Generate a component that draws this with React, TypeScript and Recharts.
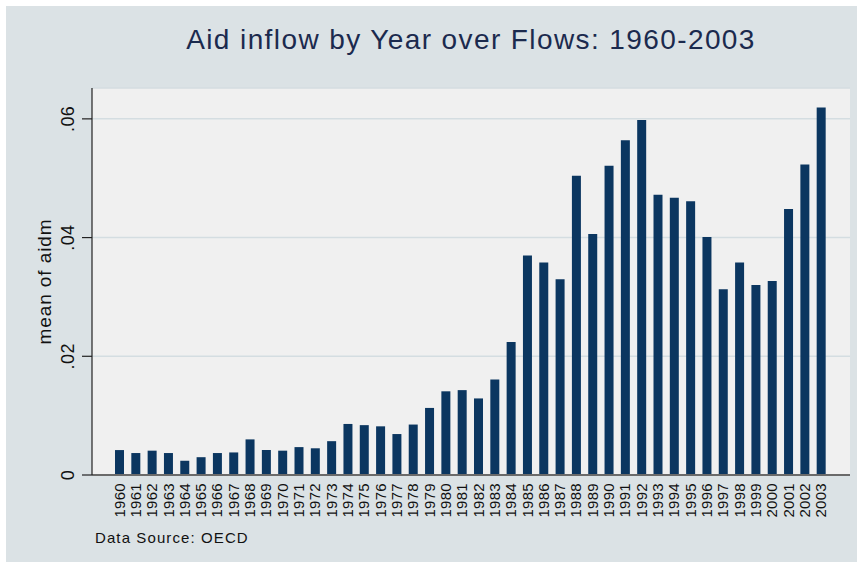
import { Bar, BarChart, CartesianGrid, Label, XAxis, YAxis } from "recharts";

const years = [
  "1960", "1961", "1962", "1963", "1964", "1965", "1966", "1967", "1968", "1969",
  "1970", "1971", "1972", "1973", "1974", "1975", "1976", "1977", "1978", "1979",
  "1980", "1981", "1982", "1983", "1984", "1985", "1986", "1987", "1988", "1989",
  "1990", "1991", "1992", "1993", "1994", "1995", "1996", "1997", "1998", "1999",
  "2000", "2001", "2002", "2003",
];

const meanAidm = [
  0.0042, 0.0037, 0.0041, 0.0037, 0.0024, 0.003, 0.0037, 0.0038, 0.006, 0.0042,
  0.0041, 0.0047, 0.0045, 0.0057, 0.0086, 0.0084, 0.0082, 0.0069, 0.0085, 0.0113,
  0.0141, 0.0143, 0.0129, 0.0161, 0.0224, 0.037, 0.0358, 0.033, 0.0504, 0.0406,
  0.0521, 0.0564, 0.0598, 0.0472, 0.0467, 0.0461, 0.0401, 0.0313, 0.0358, 0.032,
  0.0327, 0.0448, 0.0523, 0.0619,
];

const yTicks = [0, 0.02, 0.04, 0.06];

const data = years.map((year, i) => ({ year, aidm: meanAidm[i] }));

const FONT = "'Liberation Sans', Arial, sans-serif";
const BAR = "#0b3660";

const fmtY = (v: number) => (v === 0 ? "0" : v.toFixed(2).replace(/^0/, ""));

function YearTick({ x, y, payload }: any) {
  return (
    <text
      x={x}
      y={y}
      dy="0.36em"
      transform={`rotate(-90, ${x}, ${y})`}
      textAnchor="end"
      fontFamily={FONT}
      fontSize={15}
      letterSpacing={0.3}
      fill="#111"
    >
      {payload.value}
    </text>
  );
}

function ValueTick({ x, y, payload }: any) {
  const tx = x - 6;
  return (
    <text
      x={tx}
      y={y}
      transform={`rotate(-90, ${tx}, ${y})`}
      textAnchor="middle"
      fontFamily={FONT}
      fontSize={18}
      letterSpacing={0.4}
      fill="#111"
    >
      {fmtY(payload.value)}
    </text>
  );
}

function AxisTitle({ viewBox }: any) {
  const tx = viewBox.x + 45;
  const ty = viewBox.y + viewBox.height / 2;
  return (
    <text
      x={tx}
      y={ty}
      transform={`rotate(-90, ${tx}, ${ty})`}
      textAnchor="middle"
      fontFamily={FONT}
      fontSize={19}
      letterSpacing={0.9}
      fill="#111"
    >
      mean of aidm
    </text>
  );
}

export default function App() {
  return (
    <div
      style={{
        position: "absolute",
        left: 0,
        top: 0,
        width: 860,
        height: 565,
        background: "#ffffff",
        fontFamily: FONT,
      }}
    >
      <div
        style={{
          position: "absolute",
          left: 6,
          top: 6,
          width: 851,
          height: 556,
          background: "#dbe2e5",
        }}
      >
        <BarChart
          width={851}
          height={556}
          data={data}
          margin={{ top: 82, right: 7, left: 0, bottom: 0 }}
          barSize={9}
        >
          <CartesianGrid
            vertical={false}
            fill="#f0f0f0"
            stroke="#d4dde1"
            strokeWidth={1.5}
          />
          <XAxis
            dataKey="year"
            interval={0}
            height={87}
            padding={{ left: 19, right: 21 }}
            axisLine={{ stroke: "#6a6a6a", strokeWidth: 2 }}
            tickLine={false}
            tick={<YearTick />}
          />
          <YAxis
            width={86}
            domain={[0, 0.0652]}
            ticks={yTicks}
            allowDataOverflow
            axisLine={{ stroke: "#222", strokeWidth: 1.2 }}
            tickLine={{ stroke: "#222", strokeWidth: 1.2 }}
            tickSize={10}
            tick={<ValueTick />}
          >
            <Label content={<AxisTitle />} />
          </YAxis>
          <Bar dataKey="aidm" fill={BAR} isAnimationActive={false} />
        </BarChart>
      </div>
      <div
        style={{
          position: "absolute",
          left: 0,
          top: 26,
          width: 942,
          textAlign: "center",
          fontSize: 28,
          lineHeight: "28px",
          letterSpacing: 1.4,
          color: "#1b2a4e",
          whiteSpace: "nowrap",
        }}
      >
        Aid inflow by Year over Flows: 1960-2003
      </div>
      <div
        style={{
          position: "absolute",
          left: 95,
          top: 530,
          fontSize: 15,
          lineHeight: "15px",
          letterSpacing: 1.1,
          color: "#111",
          whiteSpace: "nowrap",
        }}
      >
        Data Source: OECD
      </div>
    </div>
  );
}
